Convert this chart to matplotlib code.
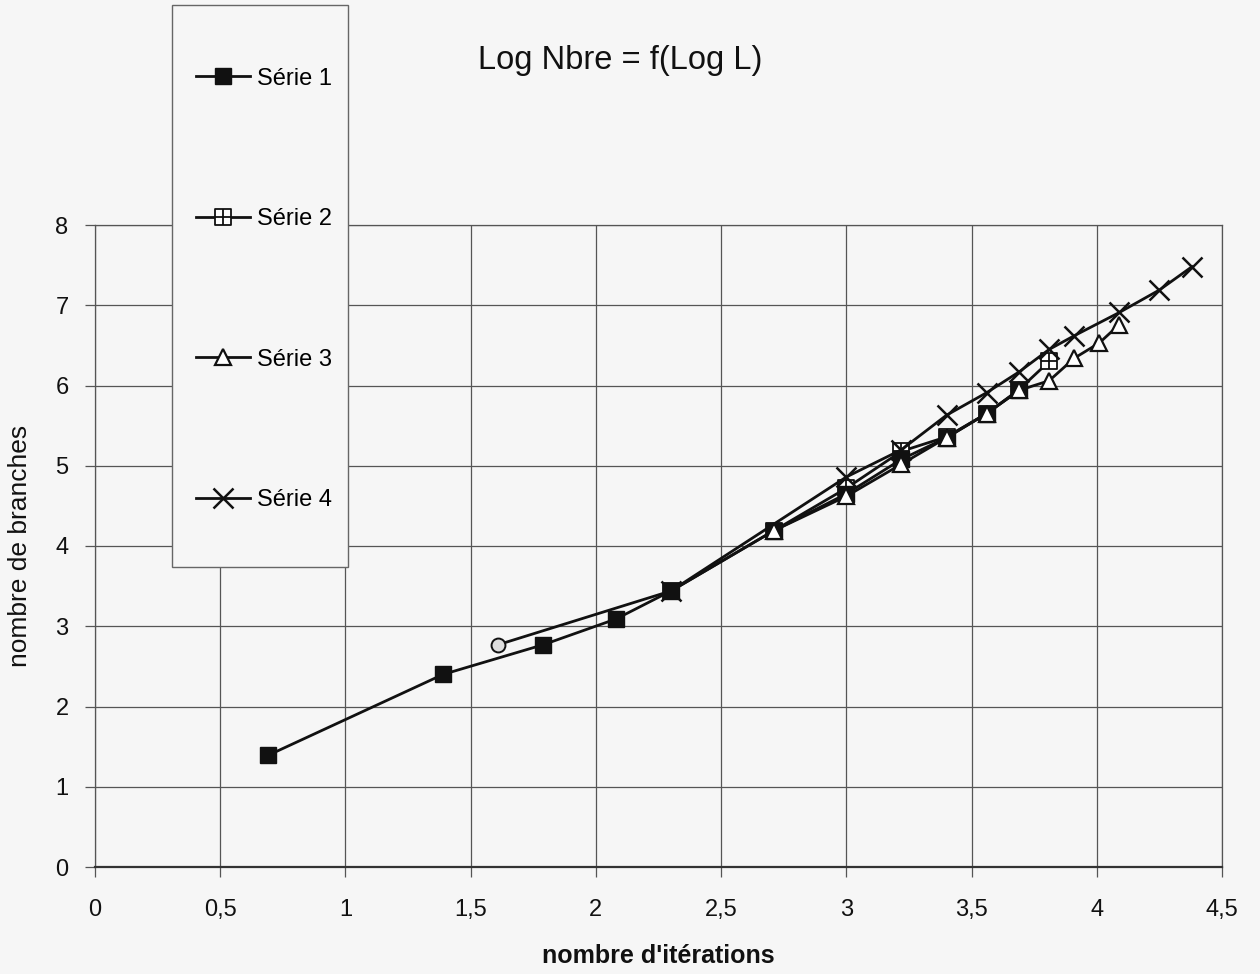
import matplotlib
matplotlib.use("Agg")
import matplotlib.pyplot as plt
from matplotlib.path import Path
from matplotlib.lines import Line2D
from matplotlib.patches import Rectangle
from matplotlib.ticker import FixedLocator, FuncFormatter

# ---- data: natural logs of iteration count (x) and branch count (y) ----
x1 = [0.69, 1.39, 1.79, 2.08, 2.30, 2.71, 3.00, 3.22, 3.40, 3.56, 3.69]
y1 = [1.39, 2.40, 2.77, 3.09, 3.44, 4.19, 4.65, 5.08, 5.35, 5.65, 5.94]

x2 = [1.61, 2.30, 2.71, 3.00, 3.22, 3.40, 3.56, 3.69, 3.81]
y2 = [2.77, 3.44, 4.19, 4.72, 5.18, 5.36, 5.65, 5.95, 6.30]

x3 = [2.71, 3.00, 3.22, 3.40, 3.56, 3.69, 3.81, 3.91, 4.01, 4.09]
y3 = [4.19, 4.62, 5.02, 5.35, 5.65, 5.94, 6.06, 6.34, 6.53, 6.76]

x4 = [2.30, 3.00, 3.22, 3.40, 3.56, 3.69, 3.81, 3.91, 4.09, 4.25, 4.38]
y4 = [3.44, 4.86, 5.20, 5.63, 5.91, 6.17, 6.45, 6.62, 6.91, 7.19, 7.48]

series_names = ["Série 1", "Série 2", "Série 3", "Série 4"]
x_ticks = [0, 0.5, 1, 1.5, 2, 2.5, 3, 3.5, 4, 4.5]
y_ticks = [0, 1, 2, 3, 4, 5, 6, 7, 8]

title = "Log Nbre = f(Log L)"
x_label = "nombre d'itérations"
y_label = "nombre de branches"

# ---- styling ----
BG = "#f6f6f6"
GRID = "#555555"
INK = "#111111"
FONT = ["Liberation Sans", "DejaVu Sans"]
plt.rcParams["font.family"] = FONT

# square with a cross inside, used for Série 2
cross_square = Path(
    [(-1, -1), (1, -1), (1, 1), (-1, 1), (-1, -1),
     (0, -1), (0, 1), (-1, 0), (1, 0)],
    [Path.MOVETO, Path.LINETO, Path.LINETO, Path.LINETO, Path.CLOSEPOLY,
     Path.MOVETO, Path.LINETO, Path.MOVETO, Path.LINETO],
)

fig = plt.figure(figsize=(12.6, 9.74), dpi=100, facecolor=BG)
ax = fig.add_axes([95 / 1260, 107 / 974, 1127 / 1260, 642 / 974])
ax.set_facecolor(BG)

lw = 2.0
s1 = dict(color=INK, lw=lw, marker="s", ms=11, mfc=INK, mec=INK)
s2 = dict(color=INK, lw=lw, marker=cross_square, ms=11, mfc="white", mec=INK, mew=1.3)
s3 = dict(color=INK, lw=lw, marker="^", ms=11, mfc="white", mec=INK, mew=1.6)
s4 = dict(color=INK, lw=lw, marker="x", ms=14, mfc=INK, mec=INK, mew=1.8)

ax.plot(x2[1:], y2[1:], zorder=3, **s2)
ax.plot(x2[:2], y2[:2], color=INK, lw=lw, zorder=3)
ax.plot(x2[:1], y2[:1], ls="none", marker="o", ms=10, mfc="#dddddd",
        mec=INK, mew=1.4, zorder=3.5)
ax.plot(x1, y1, zorder=4, **s1)
ax.plot(x3, y3, zorder=5, **s3)
ax.plot(x4, y4, zorder=6, **s4)

ax.set_xlim(x_ticks[0], x_ticks[-1])
ax.set_ylim(y_ticks[0], y_ticks[-1])
ax.xaxis.set_major_locator(FixedLocator(x_ticks))
ax.yaxis.set_major_locator(FixedLocator(y_ticks))
ax.xaxis.set_major_formatter(FuncFormatter(lambda v, p: f"{v:g}".replace(".", ",")))
ax.yaxis.set_major_formatter(FuncFormatter(lambda v, p: f"{v:g}"))

ax.grid(True, color=GRID, lw=0.9, zorder=1)
ax.set_axisbelow(True)
for side in ("top", "right", "left"):
    ax.spines[side].set_color(GRID)
    ax.spines[side].set_linewidth(0.9)
ax.spines["bottom"].set_color("#333333")
ax.spines["bottom"].set_linewidth(1.6)

ax.tick_params(axis="both", direction="out", length=7, width=0.9, color=GRID,
               labelsize=17, labelcolor=INK)
ax.tick_params(axis="x", pad=16)
ax.tick_params(axis="y", pad=12)

ax.set_xlabel(x_label, fontsize=18, fontweight="bold", color=INK)
ax.xaxis.set_label_coords(0.5, -0.12)
ax.set_ylabel(y_label, fontsize=19, color=INK)
ax.yaxis.set_label_coords(-0.056, 0.5)

fig.text(620 / 1260, 1 - 60 / 974, title, ha="center", va="center",
         fontsize=23.5, color=INK)

# legend box
fig.patches.append(Rectangle((172 / 1260, 1 - 567 / 974), 176 / 1260, 562 / 974,
                             transform=fig.transFigure, facecolor=BG,
                             edgecolor="#666666", lw=1.0, zorder=2))
handles = [Line2D([], [], **s1), Line2D([], [], **s2),
           Line2D([], [], **s3), Line2D([], [], **s4)]
fig.legend(handles, series_names, loc="upper left",
           bbox_to_anchor=(172 / 1260, 1 - 44 / 974), frameon=False,
           fontsize=17, borderpad=1.0, borderaxespad=0, labelspacing=5.02,
           handlelength=2.3, handletextpad=0.3)

fig.savefig("out.png", dpi=100, facecolor=BG)
